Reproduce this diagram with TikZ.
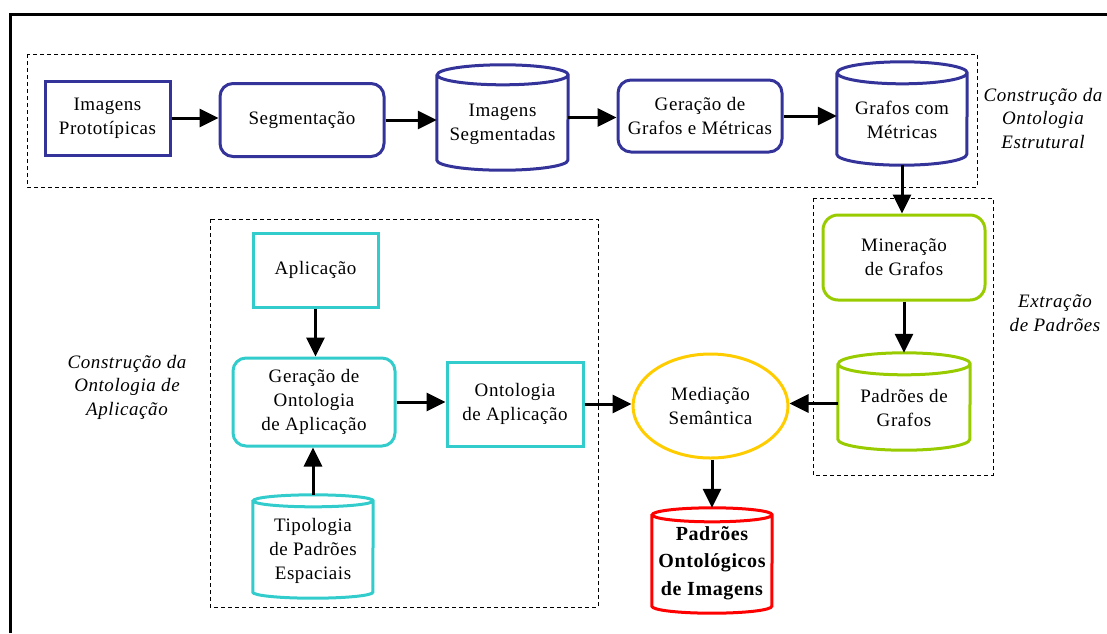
\documentclass[tikz,border=0pt]{standalone}
\usepackage{fontspec}
\setmainfont{Liberation Serif}[LetterSpace=3]
\usetikzlibrary{arrows.meta,shapes.geometric}

\definecolor{navy}{HTML}{333399}
\definecolor{teal}{HTML}{33CCCC}
\definecolor{lime}{HTML}{99CC00}
\definecolor{gold}{HTML}{FFCC00}
\definecolor{redc}{HTML}{FF0000}

% Cylinder outline drawn around a (borderless) rectangular node:
% #1 node name, #2 half width, #3 ellipse half height, #4 colour
\newcommand\drawcyl[4]{%
  \draw[#4, line width=3pt]
    ([yshift=-#3pt]#1.north west) -- ([yshift=#3pt]#1.south west)
    arc[start angle=180, end angle=360, x radius=#2pt, y radius=#3pt]
    -- ([yshift=-#3pt]#1.north east)
    arc[start angle=0, end angle=360, x radius=#2pt, y radius=#3pt];
}

\tikzset{
  txt/.style={font=\fontsize{19}{24}\selectfont, align=center, inner sep=0pt},
  lbl/.style={font=\fontsize{19}{23.5}\selectfont\itshape, align=center, inner sep=0pt},
  box/.style={txt, draw, line width=3pt, rectangle},
  rbox/.style={box, rounded corners=13pt},
  cylbox/.style={txt, rectangle, draw=none},
  group/.style={draw, line width=0.9pt, dash pattern=on 4pt off 3pt},
  arr/.style={line width=3pt, -{Triangle[length=19pt,width=18pt]}},
}

\begin{document}
\begin{tikzpicture}[x=1pt, y=-1pt]
  \useasboundingbox (0,0) rectangle (1107,633);

  % outer frame
  \draw[line width=3pt] (10,633) -- (10,14.5) -- (1107,14.5);

  % groups
  \draw[group] (27,54) rectangle (977,187);
  \draw[group] (813,198) rectangle (993,475);
  \draw[group] (210,219) rectangle (598,607);

  % structural ontology chain
  \node[box, draw=navy, minimum width=125pt, minimum height=74pt] (ip) at (107.5,118) {Imagens\\Prototípicas};
  \node[rbox, draw=navy, minimum width=164pt, minimum height=73pt] (seg) at (302,120) {Segmentação};
  \node[cylbox, minimum width=131pt, minimum height=105pt] (iseg) at (502.5,117.5) {\\[2pt]Imagens\\Segmentadas};
  \drawcyl{iseg}{65.5}{10}{navy}
  \node[rbox, draw=navy, minimum width=164pt, minimum height=72pt] (ggm) at (700,116) {Geração de\\Grafos e Métricas};
  \node[cylbox, minimum width=130pt, minimum height=103pt] (gcm) at (902,113.5) {\\[2pt]Grafos com\\Métricas};
  \drawcyl{gcm}{65}{11}{navy}

  % pattern extraction
  \node[rbox, draw=lime, rounded corners=15pt, minimum width=162pt, minimum height=85pt] (min) at (904,257.5) {Mineração\\de Grafos};
  \node[cylbox, minimum width=132pt, minimum height=97pt] (pdg) at (904,401.5) {\\[2pt]Padrões de\\Grafos};
  \drawcyl{pdg}{66}{11}{lime}

  % application ontology
  \node[box, draw=teal, minimum width=125pt, minimum height=74pt] (apl) at (315.5,270) {Aplicação};
  \node[rbox, draw=teal, minimum width=162pt, minimum height=88pt] (goa) at (314,402) {Geração de\\Ontologia\\de Aplicação};
  \node[cylbox, minimum width=120pt, minimum height=103pt] (tip) at (313,546.5) {\\[-2pt]Tipologia\\de Padrões\\Espaciais};
  \drawcyl{tip}{60}{6}{teal}
  \node[box, draw=teal, minimum width=136pt, minimum height=84pt] (oa) at (515,404) {Ontologia\\de Aplicação};

  % mediation and result
  \node[txt, draw=gold, line width=3pt, ellipse, minimum width=155pt, minimum height=104pt] (med) at (710.5,406) {Mediação\\Semântica};
  \node[cylbox, font=\fontsize{20}{27.5}\selectfont\bfseries, minimum width=120pt, minimum height=105pt] (poi) at (712,560.5) {\\[-9pt]Padrões\\Ontológicos\\de Imagens};
  \drawcyl{poi}{60}{7}{redc}

  % group labels
  \node[lbl] (l1) at (1043,118.5) {Construção da\\Ontologia\\Estrutural};
  \node[lbl] (l2) at (1055,313) {Extração\\de Padrões};
  \node[lbl] (l3) at (127,387) {Construção da\\Ontologia de\\Aplicação};

  % connectors
  \draw[arr] (ip.east) -- (ip.east -| seg.west);
  \draw[arr] (seg.east) -- (seg.east -| iseg.west);
  \draw[arr] (iseg.east) -- (iseg.east -| ggm.west);
  \draw[arr] (ggm.east) -- (ggm.east -| gcm.west);
  \draw[arr] (gcm.south) -- (gcm.south |- min.north);
  \draw[arr] (min.south) -- (pdg.north);
  \draw[arr] ([yshift=-2pt]pdg.west) -- ([yshift=-2pt]pdg.west -| med.east);
  \draw[arr] (apl.south) -- (apl.south |- goa.north);
  \draw[arr] (tip.north) -- (tip.north |- goa.south);
  \draw[arr] (goa.east) -- (goa.east -| oa.west);
  \draw[arr] (oa.east) -- (oa.east -| med.west);
  \draw[arr] (med.south -| poi.north) -- (poi.north);
\end{tikzpicture}
\end{document}
